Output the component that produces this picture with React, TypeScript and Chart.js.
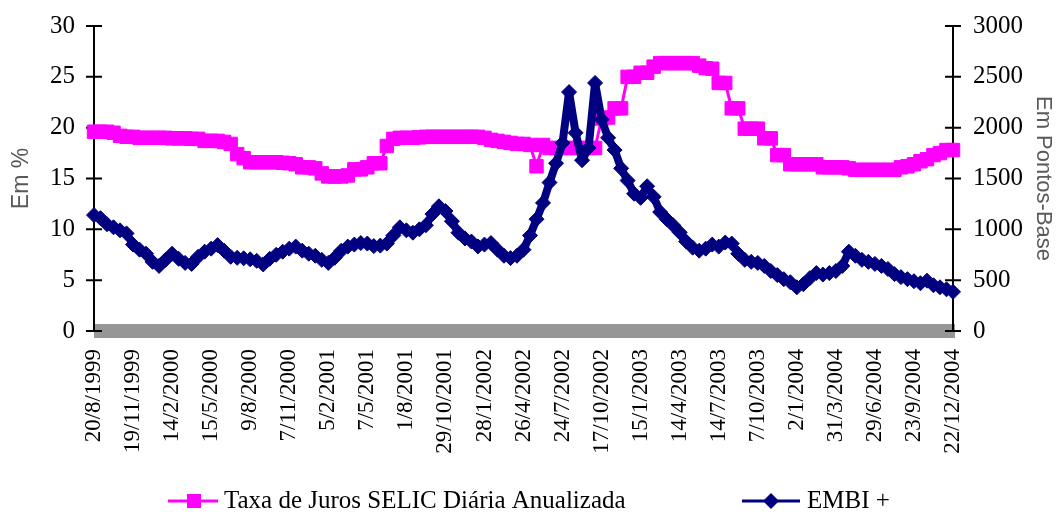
import React, { useEffect, useRef } from 'react';
import { Chart, registerables } from 'chart.js';

Chart.register(...registerables);

// Date tick labels (one every POINTS_PER_LABEL observations)
const DATE_LABELS = [
  '20/8/1999', '19/11/1999', '14/2/2000', '15/5/2000', '9/8/2000', '7/11/2000',
  '5/2/2001', '7/5/2001', '1/8/2001', '29/10/2001', '28/1/2002', '26/4/2002',
  '24/7/2002', '17/10/2002', '15/1/2003', '14/4/2003', '14/7/2003', '7/10/2003',
  '2/1/2004', '31/3/2004', '29/6/2004', '23/9/2004', '22/12/2004',
];
const POINTS_PER_LABEL = 6;

// Taxa de Juros SELIC Diária Anualizada (% a.a.)
const SELIC = [
  19.6, 19.6, 19.6, 19.5, 19.2, 19.1, 19.1, 19.0, 19.0, 19.0,
  19.0, 19.0, 18.95, 18.95, 18.95, 18.9, 18.9, 18.7, 18.7, 18.7,
  18.6, 18.4, 17.4, 17.0, 16.6, 16.6, 16.6, 16.6, 16.6, 16.55,
  16.5, 16.4, 16.1, 16.1, 16.0, 15.5, 15.2, 15.2, 15.2, 15.3,
  15.9, 15.9, 16.1, 16.5, 16.5, 18.2, 18.9, 19.0, 19.0, 19.0,
  19.05, 19.1, 19.1, 19.1, 19.1, 19.1, 19.1, 19.1, 19.1, 19.1,
  19.0, 18.8, 18.7, 18.6, 18.5, 18.4, 18.4, 18.3, 16.2, 18.3,
  18.0, 18.0, 18.0, 18.0, 18.0, 18.0, 18.0, 18.0, 20.9, 21.0,
  21.9, 21.9, 25.0, 25.0, 25.4, 25.4, 26.0, 26.35, 26.35, 26.35,
  26.35, 26.35, 26.35, 26.1, 25.85, 25.8, 24.4, 24.4, 21.9, 21.9,
  19.9, 19.9, 19.9, 18.95, 18.95, 17.3, 17.3, 16.4, 16.4, 16.4,
  16.4, 16.4, 16.1, 16.1, 16.1, 16.1, 16.0, 15.85, 15.85, 15.85,
  15.85, 15.85, 15.85, 15.85, 16.1, 16.2, 16.4, 16.7, 16.9, 17.3,
  17.5, 17.8, 17.8,
];

// EMBI + (pontos-base)
const EMBI = [
  1140, 1110, 1050, 1020, 990, 960, 850, 800, 760, 680,
  640, 700, 760, 710, 670, 660, 730, 780, 810, 845,
  790, 730, 720, 715, 705, 690, 655, 710, 750, 780,
  810, 830, 790, 760, 740, 700, 670, 720, 790, 830,
  850, 865, 860, 835, 840, 860, 940, 1020, 990, 967,
  1000, 1040, 1150, 1227, 1180, 1080, 967, 910, 880, 832,
  850, 865, 800, 740, 717, 740, 800, 940, 1100, 1260,
  1460, 1650, 1850, 2350, 1950, 1680, 1800, 2440, 2080, 1900,
  1780, 1600, 1480, 1350, 1310, 1424, 1320, 1170, 1100, 1040,
  970, 880, 820, 790, 810, 850, 830, 870, 860, 760,
  700, 680, 670, 640, 590, 550, 510, 480, 430, 460,
  520, 570, 555, 570, 590, 640, 780, 740, 700, 680,
  660, 640, 610, 560, 530, 510, 490, 470, 495, 450,
  430, 410, 385,
];

const LEFT_TICK_STEP = 5;
const RIGHT_TICK_STEP = 500;

const SERIF = '"Liberation Serif", "Times New Roman", serif';
const SANS = '"Liberation Sans", Arial, sans-serif';
const MAGENTA = '#FF00FF';
const NAVY = '#000080';

const decorPlugin = {
  id: 'decor',
  beforeDatasetsDraw(chart: any) {
    const { ctx, chartArea: a, scales } = chart;
    const yL = scales.y;
    const yR = scales.y1;
    const y0 = yL.getPixelForValue(0);
    const yTop = yL.getPixelForValue(yL.max);
    ctx.save();
    ctx.fillStyle = '#969696';
    ctx.fillRect(a.left, y0 - 7, a.right - a.left + 2, 14);
    ctx.strokeStyle = '#000';
    ctx.lineWidth = 2;
    ctx.beginPath();
    ctx.moveTo(a.left, yTop);
    ctx.lineTo(a.left, y0);
    ctx.moveTo(a.right, yTop);
    ctx.lineTo(a.right, y0);
    yL.ticks.forEach((t: any) => {
      const y = yL.getPixelForValue(t.value);
      ctx.moveTo(a.left - 8, y);
      ctx.lineTo(a.left + 8, y);
    });
    yR.ticks.forEach((t: any) => {
      const y = yR.getPixelForValue(t.value);
      ctx.moveTo(a.right - 8, y);
      ctx.lineTo(a.right + 8, y);
    });
    ctx.stroke();
    ctx.restore();
  },
  afterDraw(chart: any) {
    const { ctx } = chart;
    const y = 501;
    ctx.save();
    // item 1
    ctx.strokeStyle = MAGENTA;
    ctx.lineWidth = 3;
    ctx.beginPath();
    ctx.moveTo(168, y);
    ctx.lineTo(218, y);
    ctx.stroke();
    ctx.fillStyle = MAGENTA;
    ctx.fillRect(187, y - 7, 14, 14);
    // item 2
    ctx.strokeStyle = NAVY;
    ctx.beginPath();
    ctx.moveTo(742, y);
    ctx.lineTo(800, y);
    ctx.stroke();
    ctx.fillStyle = NAVY;
    ctx.beginPath();
    ctx.moveTo(771, y - 8);
    ctx.lineTo(779, y);
    ctx.lineTo(771, y + 8);
    ctx.lineTo(763, y);
    ctx.closePath();
    ctx.fill();
    ctx.fillStyle = '#000';
    ctx.font = `25px ${SERIF}`;
    ctx.textBaseline = 'middle';
    ctx.textAlign = 'left';
    ctx.fillText(chart.data.datasets[0].label, 224, y);
    ctx.fillText(chart.data.datasets[1].label, 807, y);
    ctx.restore();
  },
};

export default function App() {
  const canvasRef = useRef<HTMLCanvasElement | null>(null);

  useEffect(() => {
    if (!canvasRef.current) return;
    const categories = SELIC.map((_, i) =>
      i % POINTS_PER_LABEL === 0 ? DATE_LABELS[i / POINTS_PER_LABEL] : ''
    );
    const chart = new Chart(canvasRef.current, {
      type: 'line',
      data: {
        labels: categories,
        datasets: [
          {
            label: 'Taxa de Juros SELIC Diária Anualizada',
            data: SELIC,
            yAxisID: 'y',
            borderColor: MAGENTA,
            backgroundColor: MAGENTA,
            borderWidth: 3,
            borderJoinStyle: 'round',
            pointStyle: 'rect',
            pointRadius: 9.5,
            pointBorderWidth: 1,
            pointBackgroundColor: MAGENTA,
            pointBorderColor: MAGENTA,
            tension: 0,
            clip: false,
            order: 2,
          },
          {
            label: 'EMBI +',
            data: EMBI,
            yAxisID: 'y1',
            borderColor: NAVY,
            backgroundColor: NAVY,
            borderWidth: 8,
            borderJoinStyle: 'round',
            pointStyle: 'rectRot',
            pointRadius: 7.5,
            pointBorderWidth: 1,
            pointBackgroundColor: NAVY,
            pointBorderColor: NAVY,
            tension: 0,
            clip: false,
            order: 1,
          },
        ],
      },
      options: {
        responsive: false,
        animation: false,
        layout: { padding: { top: 26, left: 0, right: 0, bottom: 0 } },
        plugins: {
          legend: { display: false },
          tooltip: { enabled: false },
        },
        scales: {
          x: {
            type: 'category',
            offset: false,
            grid: { display: false, drawTicks: false },
            border: { display: false },
            ticks: {
              autoSkip: false,
              minRotation: 90,
              maxRotation: 90,
              padding: 18,
              color: '#000',
              font: { family: SERIF, size: 23 },
            },
            afterFit: (s: any) => {
              s.height = 184;
            },
          },
          y: {
            position: 'left',
            min: 0,
            max: 30,
            grid: { display: false, drawTicks: false },
            border: { display: false },
            ticks: {
              stepSize: LEFT_TICK_STEP,
              padding: 19,
              color: '#000',
              font: { family: SERIF, size: 25 },
              callback: (v: any) => String(v),
            },
            title: {
              display: true,
              text: 'Em %',
              color: '#595959',
              font: { family: SANS, size: 23 },
              padding: { top: 8, bottom: 0 },
            },
            afterFit: (s: any) => {
              s.width = 94;
              s.paddingTop = 0;
              s.paddingBottom = 0;
            },
          },
          y1: {
            position: 'right',
            min: 0,
            max: 3000,
            grid: { display: false, drawTicks: false },
            border: { display: false },
            ticks: {
              stepSize: RIGHT_TICK_STEP,
              padding: 20,
              color: '#000',
              font: { family: SERIF, size: 25 },
              callback: (v: any) => String(v),
            },
            title: {
              display: true,
              text: 'Em Pontos-Base',
              color: '#595959',
              font: { family: SANS, size: 22 },
              padding: { top: 4, bottom: 0 },
            },
            afterFit: (s: any) => {
              s.width = 107;
              s.paddingTop = 0;
              s.paddingBottom = 0;
            },
          },
        },
      },
      plugins: [decorPlugin],
    });
    return () => chart.destroy();
  }, []);

  return (
    <div style={{ position: 'absolute', left: 0, top: 0, width: 1060, height: 515, background: '#fff' }}>
      <canvas ref={canvasRef} width={1060} height={515} style={{ width: 1060, height: 515 }} />
    </div>
  );
}
